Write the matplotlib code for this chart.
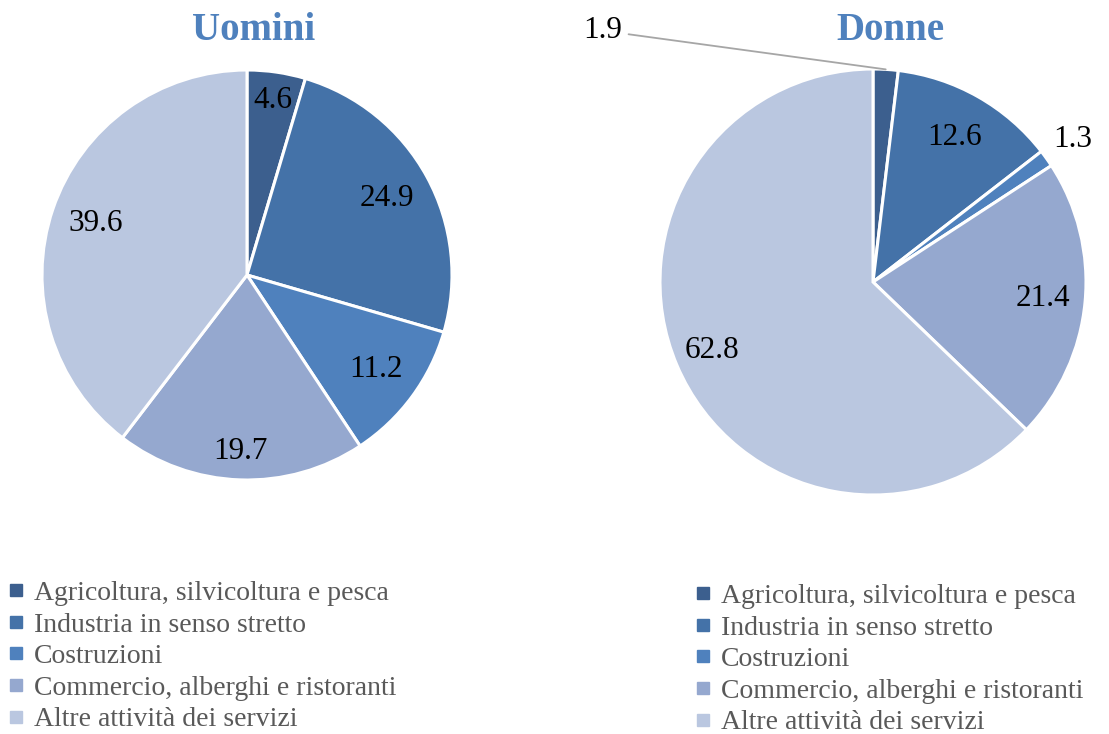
import numpy as np
import matplotlib.pyplot as plt
from matplotlib.lines import Line2D

plt.rcParams["font.family"] = ["Liberation Serif", "DejaVu Serif"]

categories = [
    "Agricoltura, silvicoltura e pesca",
    "Industria in senso stretto",
    "Costruzioni",
    "Commercio, alberghi e ristoranti",
    "Altre attività dei servizi",
]
uomini = [4.6, 24.9, 11.2, 19.7, 39.6]
donne = [1.9, 12.6, 1.3, 21.4, 62.8]
colors = ["#3C5F8E", "#4472A8", "#4F81BD", "#95A8CF", "#BAC7E0"]

# label distance (fraction of radius) per slice; None -> outside label handled separately
dist_u = [0.86, 0.78, 0.78, 0.86, 0.78]
dist_d = [None, 0.78, 1.15, 0.80, 0.82]

W, H = 1109, 734
fig = plt.figure(figsize=(W / 100, H / 100), dpi=100)


def pie_axes(cx, cy, r):
    return fig.add_axes([(cx - r) / W, 1 - (cy + r) / H, 2 * r / W, 2 * r / H])


def draw_pie(ax, values, dists):
    wedges, _ = ax.pie(values, colors=colors, startangle=90, counterclock=False,
                       radius=1.0, wedgeprops=dict(edgecolor="white", linewidth=2.2))
    ax.set_xlim(-1, 1)
    ax.set_ylim(-1, 1)
    ax.set_aspect("equal")
    ax.axis("off")
    cum = np.cumsum([0] + values[:-1])
    for v, c, d in zip(values, cum, dists):
        if d is None:
            continue
        ang = np.deg2rad(90 - (c + v / 2) * 3.6)
        ax.text(d * np.cos(ang), d * np.sin(ang), f"{v:.1f}", ha="center", va="center",
                fontsize=22.5, color="black")
    return wedges


ax1 = pie_axes(247, 275, 205)
draw_pie(ax1, uomini, dist_u)

ax2 = pie_axes(873, 282, 213)
draw_pie(ax2, donne, dist_d)
# small first slice with leader line
ang = np.deg2rad(90 - donne[0] / 2 * 3.6)
ax2.annotate(f"{donne[0]:.1f}", xy=(np.cos(ang), np.sin(ang)), xytext=(-1.18, 1.18),
             ha="right", va="center", fontsize=22.5, color="black",
             arrowprops=dict(arrowstyle="-", color="#A6A6A6", lw=1.3, shrinkA=3, shrinkB=0),
             annotation_clip=False)

fig.text(254 / W, 1 - 31 / H, "Uomini", ha="center", va="center", fontsize=28,
         fontweight="bold", color="#4F81BD")
fig.text(890 / W, 1 - 31 / H, "Donne", ha="center", va="center", fontsize=28,
         fontweight="bold", color="#4F81BD")

handles = [Line2D([], [], marker="s", linestyle="none", markersize=9, color=c) for c in colors]
for x0, y0 in [(-1, 575), (686, 578)]:
    fig.legend(handles, categories, loc="upper left", bbox_to_anchor=(x0 / W, 1 - y0 / H),
               frameon=False, fontsize=20, labelcolor="#595959", handlelength=0.8,
               handletextpad=0.25, labelspacing=0.22, borderaxespad=0, borderpad=0.2)

fig.savefig("out.png", dpi=100)
